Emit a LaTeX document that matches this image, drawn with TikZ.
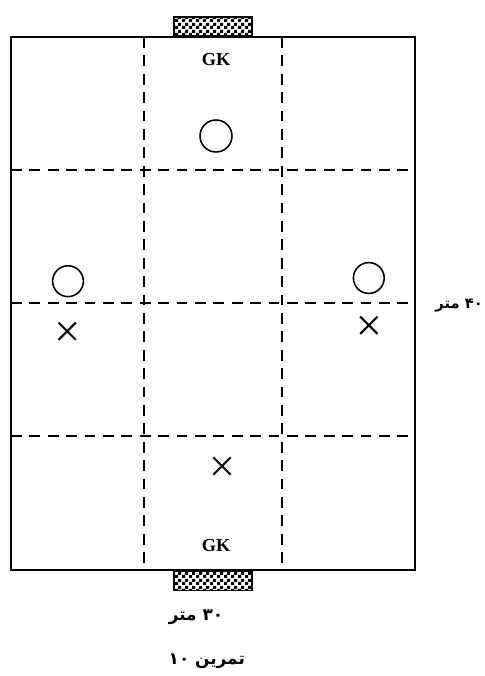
\documentclass[tikz,border=0pt]{standalone}
\usepackage{fontspec}
\setmainfont{Liberation Serif}
\newfontfamily\arabicfont[Script=Arabic]{DejaVu Sans}
\TeXXeTstate=1
\usetikzlibrary{patterns,shapes.misc}
\pgfdeclarepatternformonly{goalnet}{\pgfqpoint{0pt}{0pt}}{\pgfqpoint{4.6pt}{4.6pt}}{\pgfqpoint{4.6pt}{4.6pt}}{
\pgfpathrectangle{\pgfqpoint{0pt}{0pt}}{\pgfqpoint{2.3pt}{2.3pt}}
\pgfpathrectangle{\pgfqpoint{2.3pt}{2.3pt}}{\pgfqpoint{2.3pt}{2.3pt}}
\pgfusepath{fill}
}
\begin{document}
\begin{tikzpicture}
[
field/.style={draw,line width=1.2pt},
zone/.style={draw,line width=0.9pt,dash pattern=on 0.27cm off 0.19cm},
goal/.style={draw,line width=1.2pt,pattern=goalnet,minimum width=1.95cm,minimum height=0.48cm,inner sep=0pt},
ringplayer/.style={draw,circle,line width=1.1pt,minimum size=#1,inner sep=0pt},
crossplayer/.style={draw,cross out,line width=1.5pt,minimum size=0.38cm,inner sep=0pt},
keeper/.style={font=\bfseries\fontsize{13}{15}\selectfont},
farsi/.style={font=\arabicfont\bfseries\fontsize{#1}{14}\selectfont},
]
\useasboundingbox (0,0) rectangle (12.1,-16.9);

%Place the corners
\coordinate (nw) at (0.275,-0.925);
\coordinate (se) at (10.375,-14.25);
%Place the zone ends
\coordinate (v1t) at (3.6,-0.925);
\coordinate (v1b) at (3.6,-14.25);
\coordinate (v2t) at (7.05,-0.925);
\coordinate (v2b) at (7.05,-14.25);
\coordinate (h1l) at (0.275,-4.25);
\coordinate (h1r) at (10.375,-4.25);
\coordinate (h2l) at (0.275,-7.575);
\coordinate (h2r) at (10.375,-7.575);
\coordinate (h3l) at (0.275,-10.9);
\coordinate (h3r) at (10.375,-10.9);

%Place the nodes
\node[goal] (goaltop) at (5.325,-0.66) {};
\node[goal] (goalbot) at (5.325,-14.52) {};
\node[keeper] (gktop) at (5.4,-1.5) {GK};
\node[keeper] (gkbot) at (5.4,-13.65) {GK};
\node[ringplayer=0.8cm] (ringa) at (5.4,-3.4) {};
\node[ringplayer=0.77cm] (ringb) at (1.7,-7.03) {};
\node[ringplayer=0.77cm] (ringc) at (9.22,-6.95) {};
\node[crossplayer] (crossa) at (1.68,-8.28) {};
\node[crossplayer] (crossb) at (9.22,-8.13) {};
\node[crossplayer] (crossc) at (5.55,-11.65) {};
\node[farsi=10.5] (len) at (11.48,-7.65) {\beginR\beginL ۴۰\endL{} متر\endR};
\node[farsi=12] (wid) at (4.9,-15.42) {\beginR\beginL ۳۰\endL{} متر\endR};
\node[farsi=12] (title) at (5.17,-16.52) {\beginR تمرین \beginL ۱۰\endL\endR};

%Draw the connections
\draw[field] (nw) rectangle (se);
\draw[zone] (v1t) to (v1b);
\draw[zone] (v2t) to (v2b);
\draw[zone] (h1l) to (h1r);
\draw[zone] (h2l) to (h2r);
\draw[zone] (h3l) to (h3r);
\end{tikzpicture}
\end{document}
